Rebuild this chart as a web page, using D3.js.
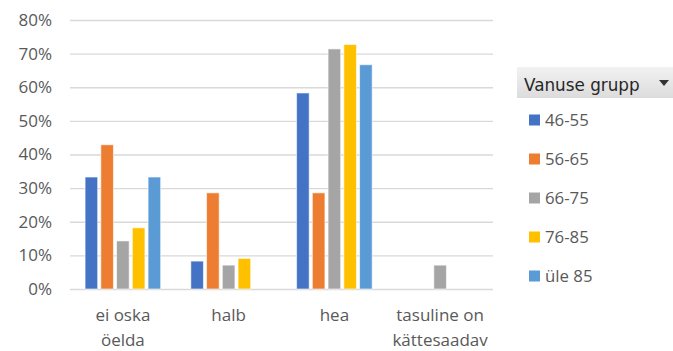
<!DOCTYPE html>
<html>
<head>
<meta charset="utf-8">
<script src="https://cdn.jsdelivr.net/npm/d3@7"></script>
<style>
  html, body { margin: 0; padding: 0; background: #fff; }
  svg { display: block; }
</style>
</head>
<body>
<svg id="chart" width="673" height="351"></svg>
<script>
// Categories (each label may wrap onto two lines)
const categories = ["ei oska öelda", "halb", "hea", "tasuline on kättesaadav"];
const categoryLines = [["ei oska", "öelda"], ["halb"], ["hea"], ["tasuline on", "kättesaadav"]];

// Age groups and their shares per category (fractions)
const seriesNames = ["46-55", "56-65", "66-75", "76-85", "üle 85"];
const s4655  = [0.333, 0.083, 0.583, 0];
const s5665  = [0.429, 0.286, 0.286, 0];
const s6675  = [0.143, 0.071, 0.714, 0.071];
const s7685  = [0.182, 0.091, 0.727, 0];
const sUle85 = [0.333, 0,     0.667, 0];
const seriesValues = [s4655, s5665, s6675, s7685, sUle85];
const colors = ["#4472C4", "#ED7D31", "#A5A5A5", "#FFC000", "#5B9BD5"];

const yTicks = [0, 0.1, 0.2, 0.3, 0.4, 0.5, 0.6, 0.7, 0.8];

const svg = d3.select("#chart");
const plot = { left: 70, right: 493, top: 20, bottom: 289 };

const x0 = d3.scaleBand().domain(categories).range([plot.left, plot.right]).padding(0);
const x1 = d3.scaleBand().domain(seriesNames)
  .range([13.5, x0.bandwidth() - 13.5]).paddingInner(0.2).paddingOuter(0.1);
const y = d3.scaleLinear().domain([0, 0.8]).range([plot.bottom, plot.top]);

const font = "'Open Sans', 'Noto Sans', sans-serif";

// Gridlines and y labels
const yAxis = d3.axisLeft(y).tickValues(yTicks)
  .tickFormat(d3.format(".0%"))
  .tickSize(-(plot.right - plot.left)).tickPadding(18);
const gy = svg.append("g").attr("transform", `translate(${plot.left},0)`).call(yAxis);
gy.select(".domain").remove();
gy.selectAll(".tick line").attr("stroke", "#d9d9d9").attr("stroke-width", 1.3);
gy.selectAll(".tick text").attr("fill", "#595959")
  .style("font-family", font).style("font-size", "17px");

// Bars
const groups = svg.append("g").selectAll("g")
  .data(categories).join("g")
  .attr("transform", d => `translate(${x0(d)},0)`);

groups.selectAll("rect")
  .data((c, ci) => seriesNames.map((s, si) => ({ s, si, v: seriesValues[si][ci] })))
  .join("rect")
  .filter(d => d.v > 0)
  .attr("x", d => x1(d.s))
  .attr("width", x1.bandwidth())
  .attr("y", d => y(d.v))
  .attr("height", d => y(0) - y(d.v))
  .attr("fill", d => colors[d.si])
  .attr("stroke", "#ffffff").attr("stroke-opacity", 0.6).attr("stroke-width", 1);

// Category labels
const cat = svg.append("g").selectAll("text")
  .data(categories).join("text")
  .attr("x", d => x0(d) + x0.bandwidth() / 2)
  .attr("y", 321)
  .attr("text-anchor", "middle")
  .attr("fill", "#595959")
  .style("font-family", font).style("font-size", "17px");
cat.selectAll("tspan")
  .data((d, i) => categoryLines[i]).join("tspan")
  .attr("x", function () { return d3.select(this.parentNode).attr("x"); })
  .attr("dy", (d, i) => i === 0 ? 0 : 24.5)
  .text(d => d);

// Legend header with dropdown arrow
const defs = svg.append("defs");
const grad = defs.append("linearGradient").attr("id", "hdr").attr("x1", 0).attr("y1", 0).attr("x2", 0).attr("y2", 1);
grad.append("stop").attr("offset", "0%").attr("stop-color", "#f2f2f2");
grad.append("stop").attr("offset", "100%").attr("stop-color", "#dcdcdc");

const lg = svg.append("g");
lg.append("rect").attr("x", 517).attr("y", 67).attr("width", 160).attr("height", 31).attr("fill", "url(#hdr)");
lg.append("text").attr("x", 524).attr("y", 90.5)
  .attr("fill", "#262626")
  .style("font-family", "'DejaVu Sans', sans-serif").style("font-size", "16.8px")
  .text("Vanuse grupp");
lg.append("path").attr("d", "M659,80 L669,80 L664,86 Z").attr("fill", "#333");

const items = lg.selectAll("g.item").data(seriesNames).join("g")
  .attr("class", "item")
  .attr("transform", (d, i) => `translate(529,${120 + i * 39})`);
items.append("rect").attr("x", 0).attr("y", -5.5).attr("width", 11).attr("height", 11)
  .attr("fill", (d, i) => colors[i]);
items.append("text").attr("x", 16).attr("y", 6)
  .attr("fill", "#595959")
  .style("font-family", font).style("font-size", "16.8px")
  .text(d => d);
</script>
</body>
</html>
